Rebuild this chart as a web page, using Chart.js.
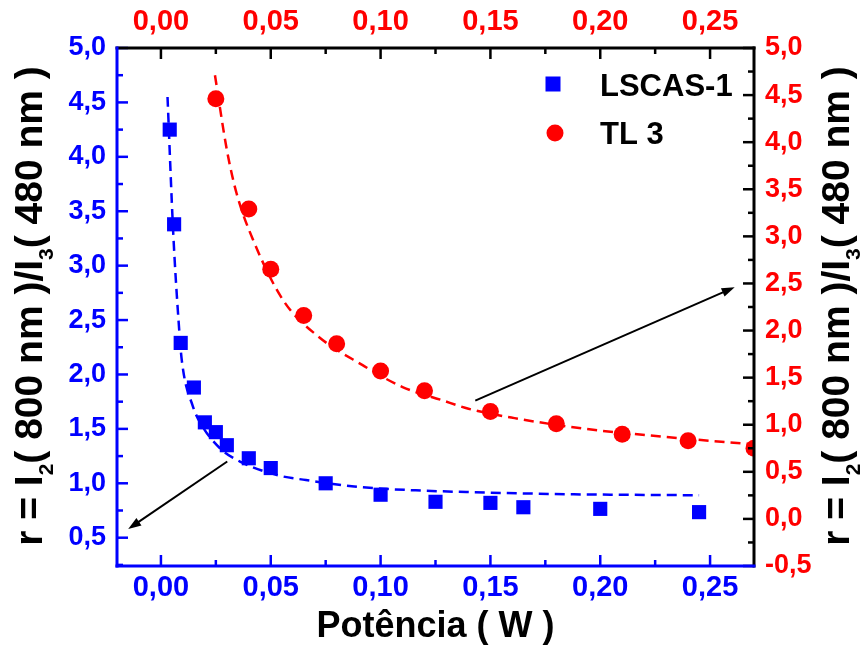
<!DOCTYPE html>
<html>
<head>
<meta charset="utf-8">
<script src="https://cdn.jsdelivr.net/npm/chart.js@4"></script>
<style>
  html, body { margin: 0; padding: 0; background: #fff; }
  #wrap { width: 864px; height: 655px; }
</style>
</head>
<body>
<div id="wrap"><canvas id="chart" width="864" height="655"></canvas></div>
<script>
const BLUE = "#0000ff";
const RED = "#ff0000";
const BLACK = "#000000";
const FONT = '"Liberation Sans", Arial, sans-serif';

// ── Data ────────────────────────────────────────────────────────────────────
// LSCAS-1: bottom axis (W) / left axis (r)
const lscasPower = [0.004, 0.006, 0.009, 0.015, 0.020, 0.025, 0.030, 0.040, 0.050, 0.075, 0.100, 0.125, 0.150, 0.165, 0.200, 0.245];
const lscasRatio = [4.25, 3.38, 2.29, 1.88, 1.56, 1.47, 1.35, 1.23, 1.14, 1.00, 0.895, 0.83, 0.82, 0.78, 0.765, 0.735];
const lscasFitPower = [0.003, 0.0056, 0.008, 0.0095, 0.0145, 0.019, 0.027, 0.036, 0.054, 0.066, 0.088, 0.116, 0.139, 0.184, 0.245];
const lscasFitRatio = [4.55, 3.30, 2.50, 2.13, 1.71, 1.52, 1.32, 1.20, 1.07, 1.03, 0.97, 0.935, 0.92, 0.90, 0.89];

// TL 3: top axis (W) / right axis (r)
const tl3Power = [0.025, 0.040, 0.050, 0.065, 0.080, 0.100, 0.120, 0.150, 0.180, 0.210, 0.240, 0.270];
const tl3Ratio = [4.46, 3.29, 2.65, 2.16, 1.86, 1.57, 1.36, 1.14, 1.01, 0.90, 0.83, 0.75];
const tl3FitPower = [0.0246, 0.030, 0.0344, 0.042, 0.0557, 0.0709, 0.092, 0.110, 0.128, 0.140, 0.161, 0.192, 0.230, 0.270];
const tl3FitRatio = [4.71, 3.92, 3.46, 2.96, 2.32, 1.95, 1.63, 1.40, 1.26, 1.17, 1.07, 0.96, 0.87, 0.79];

// tick labels
const powerTicks = [0, 0.05, 0.10, 0.15, 0.20, 0.25];
const leftRatioTicks = [0.5, 1.0, 1.5, 2.0, 2.5, 3.0, 3.5, 4.0, 4.5, 5.0];
const rightRatioTicks = [-0.5, 0.0, 0.5, 1.0, 1.5, 2.0, 2.5, 3.0, 3.5, 4.0, 4.5, 5.0];

// arrows pointing each series to its axis (data coords of their own axes)
const arrowLscas = { from: [0.0302, 1.20], to: [-0.0149, 0.58] };
const arrowTl3 = { from: [0.1431, 1.256], to: [0.2612, 2.46] };

const seriesNames = ["LSCAS-1", "TL 3"];

// ── Helpers ─────────────────────────────────────────────────────────────────
const pts = (xs, ys) => xs.map((x, i) => ({ x, y: ys[i] }));
const commaFmt = d => v => Number(v).toFixed(d).replace(".", ",");
const fixedTicks = values => scale => { scale.ticks = values.map(v => ({ value: v })); };

function scaleOpts(position, color, size, padding, digits, values, box) {
  return {
    type: "linear",
    position,
    afterBuildTicks: fixedTicks(values),
    afterFit: s => { if (position === "left" || position === "right") s.width = box; else s.height = box; },
    grid: { display: false, drawTicks: false },
    border: { display: false },
    ticks: {
      color, padding, autoSkip: false, maxRotation: 0,
      font: { family: FONT, size, weight: "bold" },
      callback: commaFmt(digits),
    },
  };
}

function withMinors(values, step, min, max) {
  const out = [];
  values.forEach(v => {
    out.push({ v, major: true });
    [v - step / 2, v + step / 2].forEach(m => {
      if (m > min && m < max && !out.some(o => Math.abs(o.v - m) < 1e-9)) out.push({ v: m, major: false });
    });
  });
  return out;
}

function drawRich(ctx, parts, size, subSize, subDrop) {
  // draws centred on 0 along +x, baseline y=0
  let total = 0;
  parts.forEach(p => {
    ctx.font = `bold ${p.sub ? subSize : size}px ${FONT}`;
    p.w = ctx.measureText(p.t).width;
    total += p.w;
  });
  let x = -total / 2;
  ctx.textAlign = "left";
  ctx.textBaseline = "alphabetic";
  parts.forEach(p => {
    ctx.font = `bold ${p.sub ? subSize : size}px ${FONT}`;
    ctx.fillText(p.t, x, p.sub ? subDrop : 0);
    x += p.w;
  });
}

function drawArrow(ctx, x1, y1, x2, y2) {
  const ang = Math.atan2(y2 - y1, x2 - x1);
  const len = 13, half = 4.5;
  ctx.beginPath();
  ctx.moveTo(x1, y1);
  ctx.lineTo(x2 - Math.cos(ang) * len * 0.8, y2 - Math.sin(ang) * len * 0.8);
  ctx.stroke();
  ctx.beginPath();
  ctx.moveTo(x2, y2);
  ctx.lineTo(x2 - Math.cos(ang) * len - Math.sin(ang) * half, y2 - Math.sin(ang) * len + Math.cos(ang) * half);
  ctx.lineTo(x2 - Math.cos(ang) * len + Math.sin(ang) * half, y2 - Math.sin(ang) * len - Math.cos(ang) * half);
  ctx.closePath();
  ctx.fill();
}

// ── Frame, ticks, titles, legend, arrows ────────────────────────────────────
const framePlugin = {
  id: "frame",
  afterDatasetsDraw(chart) {
    const { ctx, chartArea: a, scales } = chart;
    ctx.save();

    // inward ticks
    const tickSets = [
      { s: scales.x, color: BLUE, edge: a.bottom, dir: -1, horiz: true, step: 0.05 },
      { s: scales.x2, color: BLACK, edge: a.top, dir: 1, horiz: true, step: 0.05 },
      { s: scales.y, color: BLUE, edge: a.left, dir: 1, horiz: false, step: 0.5 },
      { s: scales.y2, color: BLACK, edge: a.right, dir: -1, horiz: false, step: 0.5 },
    ];
    ctx.lineWidth = 2.5;
    tickSets.forEach(t => {
      ctx.strokeStyle = t.color;
      const vals = withMinors(t.s.ticks.map(k => k.value), t.step, t.s.min, t.s.max);
      vals.forEach(({ v, major }) => {
        const p = t.s.getPixelForValue(v);
        const L = major ? 11 : 6;
        ctx.beginPath();
        if (t.horiz) { ctx.moveTo(p, t.edge); ctx.lineTo(p, t.edge + t.dir * L); }
        else { ctx.moveTo(t.edge, p); ctx.lineTo(t.edge + t.dir * L, p); }
        ctx.stroke();
      });
    });

    // axis lines
    ctx.lineWidth = 3;
    ctx.lineCap = "square";
    const seg = (x1, y1, x2, y2, c) => { ctx.strokeStyle = c; ctx.beginPath(); ctx.moveTo(x1, y1); ctx.lineTo(x2, y2); ctx.stroke(); };
    seg(a.left, a.top, a.right, a.top, BLACK);
    seg(a.right, a.top, a.right, a.bottom, BLACK);
    seg(a.left, a.bottom, a.right, a.bottom, BLUE);
    seg(a.left, a.top, a.left, a.bottom, BLUE);

    // arrows
    ctx.lineCap = "butt";
    ctx.strokeStyle = BLACK;
    ctx.fillStyle = BLACK;
    ctx.lineWidth = 2;
    drawArrow(ctx,
      scales.x.getPixelForValue(arrowLscas.from[0]), scales.y.getPixelForValue(arrowLscas.from[1]),
      scales.x.getPixelForValue(arrowLscas.to[0]), scales.y.getPixelForValue(arrowLscas.to[1]));
    drawArrow(ctx,
      scales.x2.getPixelForValue(arrowTl3.from[0]), scales.y2.getPixelForValue(arrowTl3.from[1]),
      scales.x2.getPixelForValue(arrowTl3.to[0]), scales.y2.getPixelForValue(arrowTl3.to[1]));

    // legend
    const lx = a.right - 201, ly1 = a.top + 36, ly2 = a.top + 85;
    ctx.fillStyle = BLUE;
    ctx.fillRect(lx - 7.5, ly1 - 7.5, 15, 15);
    ctx.fillStyle = RED;
    ctx.beginPath(); ctx.arc(lx + 2, ly2, 8.5, 0, Math.PI * 2); ctx.fill();
    ctx.fillStyle = BLACK;
    ctx.font = `bold 31px ${FONT}`;
    ctx.textAlign = "left";
    ctx.textBaseline = "alphabetic";
    ctx.fillText(seriesNames[0], lx + 47, ly1 + 12);
    ctx.fillText(seriesNames[1], lx + 47, ly2 + 11);

    // x title
    ctx.font = `bold 36px ${FONT}`;
    ctx.textAlign = "center";
    ctx.fillText("Potência ( W )", (a.left + a.right) / 2, 637);

    // y titles (both read bottom-to-top)
    const yTitle = () => [
      { t: "r = I" }, { t: "2", sub: true }, { t: "( 800 nm )/I" }, { t: "3", sub: true }, { t: "( 480 nm )" },
    ];
    [[42, BLACK], [849, BLACK]].forEach(([bx, c]) => {
      ctx.save();
      ctx.fillStyle = c;
      ctx.translate(bx, 306);
      ctx.rotate(-Math.PI / 2);
      drawRich(ctx, yTitle(), 39, 21, 11);
      ctx.restore();
    });

    ctx.restore();
  },
};

// ── Chart ───────────────────────────────────────────────────────────────────
new Chart(document.getElementById("chart"), {
  type: "scatter",
  data: {
    datasets: [
      {
        label: seriesNames[0],
        data: pts(lscasPower, lscasRatio),
        xAxisID: "x", yAxisID: "y",
        pointStyle: "rect", pointRadius: 10, borderWidth: 0,
        backgroundColor: BLUE, borderColor: BLUE,
      },
      {
        label: seriesNames[1],
        data: pts(tl3Power, tl3Ratio),
        xAxisID: "x2", yAxisID: "y2",
        pointStyle: "circle", pointRadius: 8.5, borderWidth: 0,
        backgroundColor: RED, borderColor: RED,
        clip: 0,
      },
      {
        label: "fit LSCAS-1",
        data: pts(lscasFitPower, lscasFitRatio),
        xAxisID: "x", yAxisID: "y",
        showLine: true, pointRadius: 0, borderWidth: 2.5, borderColor: BLUE,
        borderDash: [10, 6], cubicInterpolationMode: "monotone", clip: 0,
      },
      {
        label: "fit TL 3",
        data: pts(tl3FitPower, tl3FitRatio),
        xAxisID: "x2", yAxisID: "y2",
        showLine: true, pointRadius: 0, borderWidth: 2.5, borderColor: RED,
        borderDash: [10, 6], cubicInterpolationMode: "monotone", clip: 0,
      },
    ],
  },
  options: {
    responsive: false,
    animation: false,
    layout: { padding: 0 },
    plugins: { legend: { display: false }, tooltip: { enabled: false }, title: { display: false } },
    scales: {
      x: { ...scaleOpts("bottom", BLUE, 29, 5, 2, powerTicks, 89), min: -0.02, max: 0.27 },
      x2: { ...scaleOpts("top", RED, 29, 9, 2, powerTicks, 48), min: -0.02, max: 0.27 },
      y: { ...scaleOpts("left", BLUE, 27, 11, 1, leftRatioTicks, 117), min: 0.24, max: 5.0 },
      y2: { ...scaleOpts("right", RED, 27, 11, 1, rightRatioTicks, 110), min: -0.5, max: 5.0 },
    },
  },
  plugins: [framePlugin],
});
</script>
</body>
</html>
